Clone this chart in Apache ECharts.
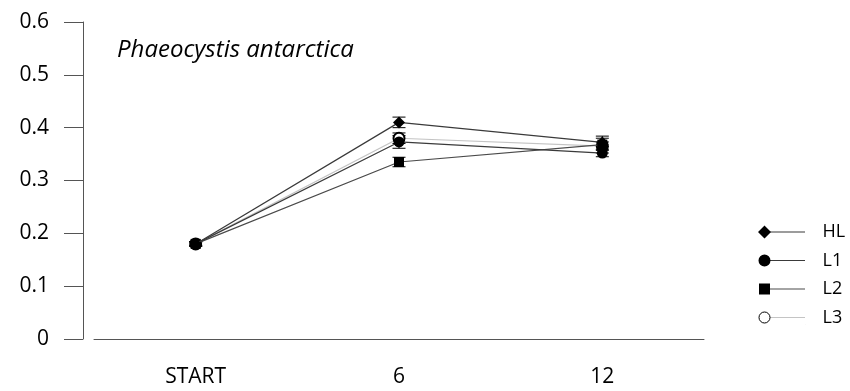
<!DOCTYPE html>
<html><head><meta charset="utf-8">
<script src="https://cdn.jsdelivr.net/npm/echarts@6/dist/echarts.min.js"></script>
<style>html,body{margin:0;padding:0;background:#fff}#c{width:850px;height:391px}</style>
</head><body><div id="c"></div>
<script>
const categories = ['START', '6', '12'];
const seriesNames = ['HL', 'L1', 'L2', 'L3'];
const hlValues = [0.18, 0.41, 0.372];
const l1Values = [0.18, 0.373, 0.352];
const l2Values = [0.18, 0.335, 0.368];
const l3Values = [0.18, 0.38, 0.365];
const hlErr = [0.004, 0.01, 0.008];
const l1Err = [0.004, 0.012, 0.007];
const l2Err = [0.004, 0.009, 0.016];
const l3Err = [0.004, 0.01, 0.008];
const titleText = 'Phaeocystis antarctica';

const FONT = '"Open Sans", sans-serif';
const valuesList = [hlValues, l1Values, l2Values, l3Values];
const errList = [hlErr, l1Err, l2Err, l3Err];
const lineColors = ['#3a3a3a', '#3a3a3a', '#4a4a4a', '#c4c4c4'];
const symbols = ['diamond', 'circle', 'rect', 'emptyCircle'];
const symbolSizes = [12, 11, 10, 11];
const zOrder = [6, 5, 4, 3];

const ext = ' M0,0L0,0.01Z M48,14L48,13.99Z';
const markerIcons = [
  'path://M7,0.5L13.5,7L7,13.5L0.5,7Z' + ext,
  'path://M1,7A6,6,0,1,1,13,7A6,6,0,1,1,1,7Z' + ext,
  'path://M1.5,1.5L12.5,1.5L12.5,12.5L1.5,12.5Z' + ext,
  'path://M1.5,7A5.5,5.5,0,1,1,12.5,7A5.5,5.5,0,1,1,1.5,7Z' + ext
];
const lineIcon = 'path://M7,6.5L48,6.5L48,7.5L7,7.5Z' + ext;

const series = [];
seriesNames.forEach((name, k) => {
  series.push({
    name: name, type: 'line', data: valuesList[k],
    symbol: symbols[k], symbolSize: symbolSizes[k],
    lineStyle: { color: lineColors[k], width: 1.2 },
    itemStyle: { color: '#000', borderWidth: k === 3 ? 1 : 0 },
    z: zOrder[k], animation: false
  });
  series.push({
    name: name, type: 'custom',
    data: valuesList[k].map((v, i) => [i, v - errList[k][i], v + errList[k][i]]),
    encode: { x: 0, y: [1, 2] },
    renderItem: function (params, api) {
      const x = api.value(0);
      const lo = api.coord([x, api.value(1)]);
      const hi = api.coord([x, api.value(2)]);
      const w = 6.5;
      const st = { stroke: '#000', lineWidth: 1 };
      return { type: 'group', children: [
        { type: 'line', shape: { x1: lo[0], y1: lo[1], x2: hi[0], y2: hi[1] }, style: st },
        { type: 'line', shape: { x1: lo[0] - w, y1: lo[1], x2: lo[0] + w, y2: lo[1] }, style: st },
        { type: 'line', shape: { x1: hi[0] - w, y1: hi[1], x2: hi[0] + w, y2: hi[1] }, style: st }
      ]};
    },
    z: 2, animation: false
  });
});

const legendCommon = {
  orient: 'vertical', left: 757, top: 222, padding: 0,
  itemWidth: 48, itemHeight: 14, itemGap: 8.5, symbolKeepAspect: false,
  selectedMode: false,
  textStyle: { fontFamily: FONT, fontSize: 18, lineHeight: 20, padding: [0, 0, 0, 12] }
};

const option = {
  backgroundColor: '#fff',
  animation: false,
  title: {
    text: titleText, left: 117, top: 38, padding: 0,
    textStyle: { fontFamily: FONT, fontSize: 24, fontStyle: 'italic', fontWeight: 'normal', color: '#000' }
  },
  grid: { left: 94, right: 146, top: 22, bottom: 52 },
  xAxis: {
    type: 'category', data: categories, boundaryGap: true, offset: 2,
    axisLine: { lineStyle: { color: '#555', width: 1 } },
    axisTick: { alignWithLabel: true, length: 16, lineStyle: { color: '#555' } },
    axisLabel: { margin: 26, fontFamily: FONT, fontSize: 21, color: '#000' },
    splitLine: { show: false }
  },
  yAxis: {
    type: 'value', min: 0, max: 0.6, interval: 0.1, offset: 11,
    axisLine: { show: true, lineStyle: { color: '#555', width: 1 } },
    axisTick: { show: true, length: 19, lineStyle: { color: '#555' } },
    axisLabel: { margin: 34, fontFamily: FONT, fontSize: 21, color: '#000',
      formatter: v => v === 0 ? '0' : v.toFixed(1) },
    splitLine: { show: false }
  },
  legend: [
    Object.assign({}, legendCommon, {
      data: seriesNames.map((n, k) => ({ name: n, icon: lineIcon,
        itemStyle: { color: lineColors[k], borderWidth: 0 } })),
      textStyle: Object.assign({}, legendCommon.textStyle, { color: 'rgba(0,0,0,0)' })
    }),
    Object.assign({}, legendCommon, {
      data: seriesNames.map((n, k) => ({ name: n, icon: markerIcons[k],
        itemStyle: k === 3 ? { color: '#fff', borderColor: '#000', borderWidth: 1 } : { color: '#000', borderWidth: 0 } })),
      textStyle: Object.assign({}, legendCommon.textStyle, { color: '#000' })
    })
  ],
  series: series
};

const chart = echarts.init(document.getElementById('c'), null, { renderer: 'canvas' });
chart.setOption(option);
</script></body></html>
